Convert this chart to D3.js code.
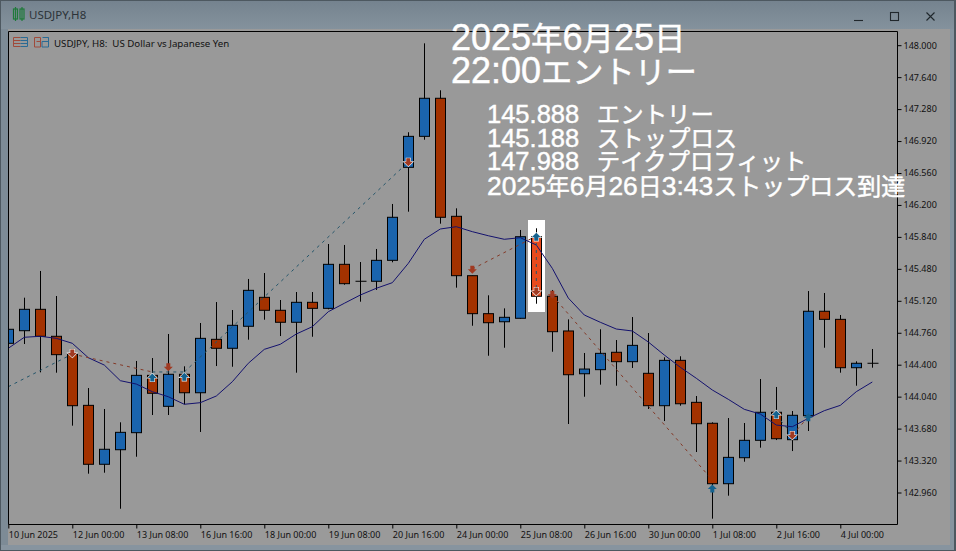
<!DOCTYPE html>
<html><head><meta charset="utf-8">
<script src="https://cdn.jsdelivr.net/npm/d3@7/dist/d3.min.js"></script>
<style>html,body{margin:0;padding:0;background:#999;overflow:hidden}svg{display:block}</style>
</head><body><svg id="c" width="956" height="551"></svg>
<script>
// bar order is index 0..54 (H8 bars, 10 Jun 2025 - 4 Jul 2025)
const opens=[144.641,144.783,145.024,144.720,144.517,143.942,143.278,143.442,143.634,144.280,143.931,144.292,144.084,144.686,144.585,144.833,145.159,145.013,144.878,145.103,145.035,145.531,145.340,145.340,145.576,146.624,146.973,147.402,146.072,145.403,144.975,144.884,144.923,145.842,145.171,144.780,144.298,144.344,144.540,144.434,144.303,143.938,144.449,143.976,143.740,143.059,143.352,143.548,143.864,143.555,143.825,145.002,144.911,144.366,144.416];
const highs=[144.850,145.155,145.456,145.174,144.520,144.137,143.901,143.751,144.442,144.475,144.746,144.382,144.870,145.106,145.016,145.366,145.433,145.129,145.219,145.219,145.760,145.749,145.557,145.704,146.211,147.019,148.021,147.492,146.162,145.403,145.182,145.035,145.918,145.937,145.242,144.911,144.532,144.799,144.678,144.937,144.757,144.483,144.495,144.047,143.751,143.799,143.743,144.239,144.149,143.878,145.230,145.208,144.960,144.438,144.577];
const lows=[144.600,144.633,144.314,144.310,143.713,143.172,143.183,142.777,143.363,143.833,143.833,143.954,143.642,144.385,144.377,144.682,144.907,144.723,144.310,144.715,145.024,145.301,145.110,145.242,145.554,146.124,146.935,145.989,145.268,144.839,144.501,144.591,144.918,145.087,144.546,143.732,144.039,144.175,144.163,144.363,143.901,143.765,143.938,143.416,142.665,142.924,143.307,143.465,143.551,143.427,143.653,144.591,144.310,144.163,144.366];
const closes=[144.799,145.024,144.720,144.513,143.938,143.278,143.447,143.638,144.280,144.078,144.292,144.084,144.697,144.585,144.844,145.238,145.013,144.878,145.103,145.035,145.531,145.313,145.340,145.576,146.061,146.973,147.402,146.061,145.403,144.975,144.873,144.934,145.842,145.171,144.772,144.287,144.351,144.528,144.434,144.618,143.938,144.449,143.960,143.735,143.059,143.356,143.548,143.864,143.566,143.830,145.002,144.911,144.366,144.416,144.416];
const maValues=[144.585,144.709,144.720,144.697,144.641,144.479,144.396,144.220,144.182,144.096,144.039,143.954,143.972,144.047,144.208,144.416,144.573,144.630,144.746,144.828,144.997,145.092,145.185,145.261,145.324,145.542,145.813,145.929,145.955,145.899,145.853,145.813,145.831,145.749,145.486,145.151,144.960,144.878,144.802,144.780,144.656,144.509,144.371,144.247,144.115,144.010,143.897,143.844,143.720,143.701,143.796,143.882,143.942,144.096,144.205];
const priceTicks=[148,147.64,147.28,146.92,146.56,146.2,145.84,145.48,145.12,144.76,144.4,144.04,143.68,143.32,142.96];
const timeTickIndex=[0,4,8,12,16,20,24,28,32,36,40,44,48,52];
const timeTickLabels=["10 Jun 2025","12 Jun 00:00","13 Jun 08:00","16 Jun 16:00","18 Jun 00:00","19 Jun 08:00","20 Jun 16:00","24 Jun 00:00","25 Jun 08:00","26 Jun 16:00","30 Jun 00:00","1 Jul 08:00","2 Jul 16:00","4 Jul 00:00"];
const highlightBar=33;
// trade history: [bar, price, bar, price, side]
const tradeLines=[[0,144.152,4,144.520,"b"],[4,144.520,9,144.318,"s"],[9,144.318,11,144.318,"b"],[11,144.318,25,146.684,"b"],[29,145.478,33,145.850,"s"],[33,145.850,33,145.230,"b"],[34,145.18,44,143.10,"s"],[48,143.833,49,143.608,"b"],[49,143.608,50,143.811,"s"]];
// trade arrows: [bar, price, side, halo]
const tradeMarks=[[4,144.532,"s",1],[9,144.250,"b",1],[10,144.377,"s",0],[11,144.258,"b",1],[25,146.687,"s",1],[29,145.475,"s",0],[33,145.835,"b",1],[33,145.230,"s",1],[34,145.193,"s",0],[44,142.999,"b",0],[48,143.833,"b",1],[49,143.608,"s",1],[50,143.803,"b",0]];
const windowTitle="USDJPY,H8";
const chartCaption="USDJPY, H8:  US Dollar vs Japanese Yen";
const bigNotes=["2025年6月25日","22:00エントリー"];
const smallNotes=["145.888  エントリー","145.188  ストップロス","147.988  テイクプロフィット","2025年6月26日3:43ストップロス到達"];

const svg=d3.select("#c");
const L=8,T=31,R=897,B=524;
const x=d3.scaleLinear().domain([0,54]).range([8.3,872.3]);
const y=d3.scaleLinear().domain([148,142.96]).range([45.2,492.5]);
const UI="'Noto Sans','DejaVu Sans',sans-serif";
const RED="#a33200",BLUE="#1a64ad",COL={b:"#24556a",s:"#843a28"},ARW={b:"#14628f",s:"#a03a22"};

// window chrome
svg.append("rect").attr("width",956).attr("height",551).attr("fill","#4d5860");
svg.append("rect").attr("x",1).attr("y",1).attr("width",953).attr("height",549).attr("fill","#87949f");
const tg=svg.append("defs").append("linearGradient").attr("id","tb").attr("x1",0).attr("x2",0).attr("y1",0).attr("y2",1);
tg.append("stop").attr("offset",0).attr("stop-color","#75838f");tg.append("stop").attr("offset",1).attr("stop-color","#84929d");
svg.append("rect").attr("x",1).attr("y",1).attr("width",953).attr("height",28).attr("fill","url(#tb)");
svg.append("rect").attr("x",1).attr("y",29).attr("width",7).attr("height",516).attr("fill","#7d8b96");
svg.append("rect").attr("x",8).attr("y",29).attr("width",942).attr("height",516).attr("fill","#9a9a9a");
svg.append("rect").attr("x",L).attr("y",T).attr("width",R-L).attr("height",B-T).attr("fill","#999999");

// title bar
const ic=svg.append("g").attr("fill","none").attr("stroke","#1f7a3a").attr("stroke-width",1.2);
[[13.5,9,10,"M15.5 7V21"],[20,9,10,"M22 7V21"]].forEach(d=>{ic.append("rect").attr("x",d[0]).attr("y",d[1]).attr("width",4).attr("height",d[2]);ic.append("path").attr("d",d[3]);});
svg.append("text").attr("x",29).attr("y",19).attr("font-family",UI).attr("font-size",11.5).attr("fill","#2c3338").text(windowTitle);
const wc=svg.append("g").attr("stroke","#20272c").attr("fill","none").attr("stroke-width",1.1);
wc.append("path").attr("d","M854 20.5H863");
wc.append("rect").attr("x",890.5).attr("y",12.5).attr("width",8).attr("height",8);
wc.append("path").attr("d","M926.5 12.5L934.5 20.5M934.5 12.5L926.5 20.5");

// chart caption icons
const ci=svg.append("g").attr("fill","none").attr("stroke-width",1);
ci.append("path").attr("stroke","#a04a3a").attr("d","M20.5 37.5H13.5V46.5H20.5M13.5 40.5H20.5M13.5 43.5H20.5");
ci.append("path").attr("stroke","#2a6a94").attr("d","M20.5 37.5H27.5V46.5H20.5M20.5 40.5H27.5M20.5 43.5H27.5");
ci.append("path").attr("stroke","#a04a3a").attr("d","M34.5 47V37.5H40.5V47ZM40.5 41.5H36.5");
ci.append("path").attr("stroke","#2a6a94").attr("d","M42 47V41.5H48.5V37.5H42.5M48.5 37.5V47H42");
svg.append("text").attr("x",54).attr("y",46.5).attr("font-family",UI).attr("font-size",9.7).attr("fill","#111").attr("xml:space","preserve").text(chartCaption);

// plot
svg.append("defs").append("clipPath").attr("id","plot").append("rect").attr("x",L).attr("y",T).attr("width",R-L).attr("height",B-T);
const p=svg.append("g").attr("clip-path","url(#plot)");
const idx=d3.range(opens.length);
p.append("rect").attr("x",x(highlightBar)-8.3).attr("width",17).attr("y",220).attr("height",92).attr("fill","#fff");

const snap=v=>Math.round(v)+.5;
p.append("g").selectAll("path").data(idx).join("path").attr("stroke","#000").attr("stroke-width",1).attr("fill","none")
 .attr("d",i=>`M${snap(x(i))} ${y(highs[i])}V${y(lows[i])}`);
p.append("g").selectAll("rect").data(idx.filter(i=>Math.abs(opens[i]-closes[i])>0.001)).join("rect")
 .attr("x",i=>snap(x(i))-5).attr("width",10)
 .attr("y",i=>y(Math.max(opens[i],closes[i]))).attr("height",i=>Math.abs(y(opens[i])-y(closes[i])))
 .attr("fill",i=>i===highlightBar?"#e84a1c":(closes[i]>opens[i]?BLUE:RED)).attr("stroke","#000").attr("stroke-width",1);
p.append("g").selectAll("path").data(idx.filter(i=>Math.abs(opens[i]-closes[i])<=0.001)).join("path")
 .attr("stroke","#000").attr("d",i=>`M${snap(x(i))-5} ${y(opens[i])}H${snap(x(i))+6}`);

// moving average
p.append("path").datum(maValues).attr("fill","none").attr("stroke","#14126e").attr("stroke-width",1)
 .attr("d",d3.line().x((d,i)=>x(i)).y(d=>y(d)));

// trade lines
p.append("g").selectAll("line").data(tradeLines).join("line")
 .attr("x1",d=>x(d[0])).attr("y1",d=>y(d[1])).attr("x2",d=>x(d[2])).attr("y2",d=>y(d[3]))
 .attr("stroke",d=>COL[d[4]]).attr("stroke-width",1).attr("stroke-dasharray","3,4");

// trade arrows
const upArrow="M0 -4.5L4.5 0H2V3.5H-2V0H-4.5Z",downArrow="M0 4.5L4.5 0H2V-3.5H-2V0H-4.5Z";
p.append("g").selectAll("path").data(tradeMarks).join("path")
 .attr("transform",d=>`translate(${x(d[0])},${y(d[1])})`)
 .attr("d",d=>d[2]==="b"?upArrow:downArrow)
 .attr("fill",d=>ARW[d[2]])
 .attr("stroke",d=>d[3]?"#eeeeee":"none").attr("stroke-width",d=>d[3]?1.2:0).attr("paint-order","stroke");

// frame & axes
svg.append("path").attr("fill","none").attr("stroke","#000").attr("d",`M${L+.5} ${T+.5}H${R+.5}V${B+.5}H${L+.5}Z`);
const ay=svg.append("g").attr("transform",`translate(${R+.5},0)`)
 .call(d3.axisRight(y).tickValues(priceTicks).tickFormat(d3.format(".3f")).tickSize(4).tickPadding(2));
ay.select(".domain").remove();
ay.selectAll("line").attr("stroke","#000");
ay.selectAll("text").attr("font-family",UI).attr("font-size",9).attr("fill","#111");
const ax=svg.append("g").attr("transform",`translate(0,${B+.5})`)
 .call(d3.axisBottom(x).tickValues(timeTickIndex).tickFormat((d,i)=>timeTickLabels[i]).tickSize(4).tickPadding(1));
ax.select(".domain").remove();
ax.selectAll("line").attr("stroke","#000");
ax.selectAll("text").attr("text-anchor","start").attr("font-family",UI).attr("font-size",9).attr("fill","#111").attr("dy","0.95em");

// white annotation text: latin digits and CJK glyphs use different sizes
function note(g,str,px,py,latin,cjk,gap){
  const t=g.append("text").attr("x",px).attr("y",py).attr("fill","#fff").attr("stroke","#fff").attr("stroke-width",.45).attr("xml:space","preserve");
  (str.match(/[\x00-\x7f]+|[^\x00-\x7f]+/g)||[]).forEach((run,k)=>{
    const a=/^[\x00-\x7f]/.test(run);
    const s=t.append("tspan").attr("font-family",a?"'Liberation Sans',sans-serif":"'Noto Sans CJK JP',sans-serif")
     .attr("font-size",a?latin:cjk).text(run);
    if(gap&&k>0) s.attr("dx",gap);
  });
}
const n=svg.append("g");
note(n,bigNotes[0],451,50,36,31.4,0);
note(n,bigNotes[1],451,83.3,36,31.2,0);
note(n,smallNotes[0],487,123.3,25.5,23.4,3.5);
note(n,smallNotes[1],487,146.7,25.5,23.4,3.5);
note(n,smallNotes[2],487,170.2,25.5,23.4,3.5);
note(n,smallNotes[3],487,195,26.4,24,0);
</script></body></html>
